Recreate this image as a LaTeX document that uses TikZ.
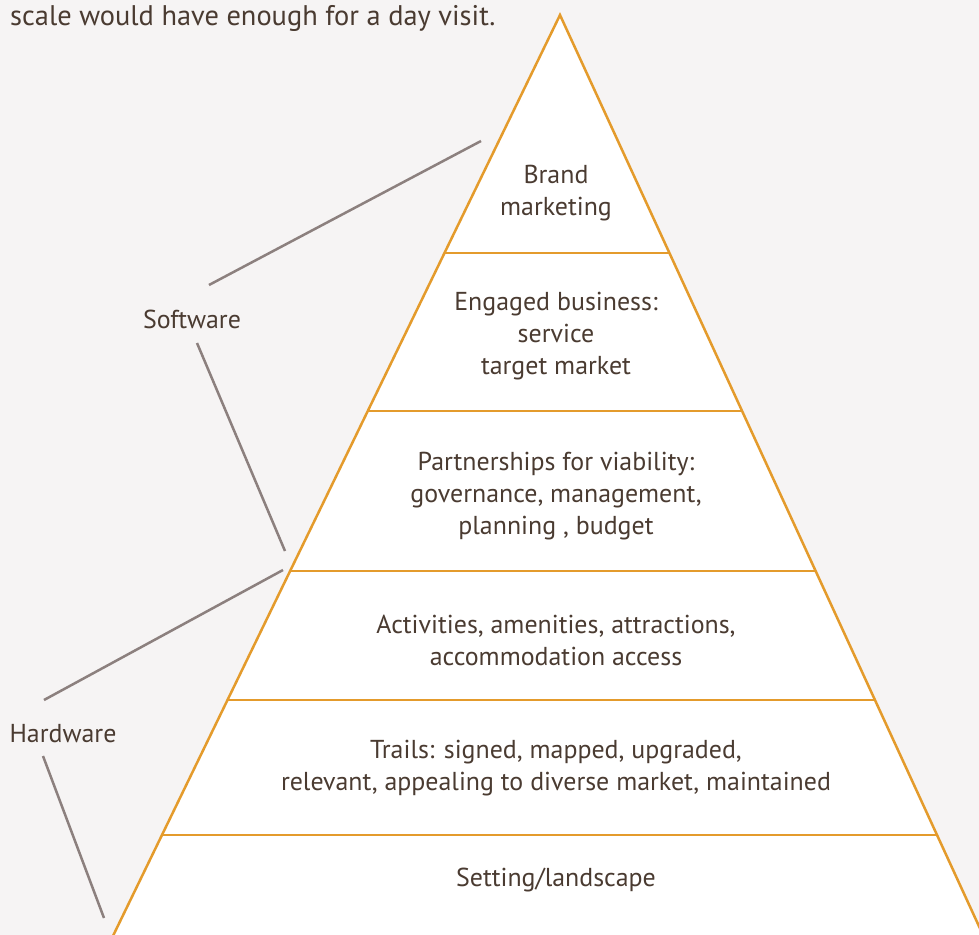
\documentclass[tikz,border=0pt]{standalone}
\usepackage{fontspec}
\setmainfont{PT Sans}
\usetikzlibrary{positioning}
\definecolor{bg}{HTML}{F6F4F4}
\definecolor{ochre}{HTML}{E49B2C}
\definecolor{ink}{HTML}{4A3B31}
\definecolor{leader}{HTML}{8C807E}

\begin{document}
\begin{tikzpicture}[x=1bp, y=-1bp, every node/.style={inner sep=0pt, text=ink, font=\fontsize{26}{32}\selectfont}]
\useasboundingbox (0,0) rectangle (979,935);
\clip (0,0) rectangle (979,935);
\fill[bg] (0,0) rectangle (979,935);

% pyramid
\coordinate (top) at (560,15);
\coordinate (bl) at (101.3,960);
\coordinate (br) at (994.5,960);
\draw[fill=white, draw=ochre, line width=2.5bp, line join=miter] (top) -- (bl) -- (br) -- cycle;
\draw[ochre, line width=2.5bp] (444.5,253) -- (669.4,253);
\draw[ochre, line width=2.5bp] (367.8,411) -- (742.1,411);
\draw[ochre, line width=2.5bp] (290.1,571) -- (815.6,571);
\draw[ochre, line width=2.5bp] (227.5,700) -- (875.0,700);
\draw[ochre, line width=2.5bp] (162.0,835) -- (937.0,835);

% layers
\node[align=center] (brand) at (556,193) {Brand\\marketing};
\node[align=center] (biz) at (556,336) {Engaged business:\\service\\target market};
\node[align=center] (partner) at (556,496) {Partnerships for viability:\\governance, management,\\planning , budget};
\node[align=center] (act) at (556,640) {Activities, amenities, attractions,\\accommodation access};
\node[align=center] (trails) at (556,768) {Trails: signed, mapped, upgraded,\\relevant, appealing to diverse market, maintained};
\node (setting) at (556,880) {Setting/landscape};

% side labels
\node (soft) at (192,319) {Software};
\node (hard) at (63,734) {Hardware};
\coordinate (s1) at (209,285);
\coordinate (s2) at (481,141);
\coordinate (s3) at (197,343);
\coordinate (s4) at (285,551);
\coordinate (h1) at (44,700);
\coordinate (h2) at (283,570);
\coordinate (h3) at (43,756);
\coordinate (h4) at (104,918);
\draw[leader, line width=2.5bp] (s1) -- (s2);
\draw[leader, line width=2.5bp] (s3) -- (s4);
\draw[leader, line width=2.5bp] (h1) -- (h2);
\draw[leader, line width=2.5bp] (h3) -- (h4);

% running text
\node[anchor=base west, font=\fontsize{28.5}{34}\selectfont] (intro) at (10,25) {scale would have enough for a day visit.};
\end{tikzpicture}
\end{document}
